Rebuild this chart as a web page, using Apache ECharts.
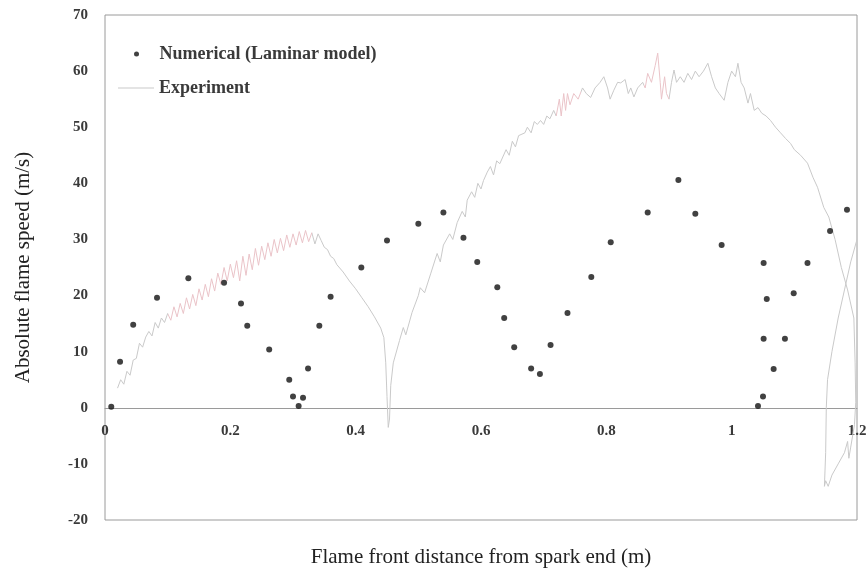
<!DOCTYPE html>
<html>
<head>
<meta charset="utf-8">
<script src="https://cdn.jsdelivr.net/npm/echarts@6/dist/echarts.min.js"></script>
<style>
  html, body { margin: 0; padding: 0; background: #fff; }
  #chart { width: 868px; height: 573px; }
</style>
</head>
<body>
<div id="chart"></div>
<script>
// x ticks / y ticks
const xTicks = { min: 0, max: 1.2, step: 0.2 };
const yTicks = { min: -20, max: 70, step: 10 };

// Numerical (Laminar model) points [distance m, speed m/s]
const numerical = [
  [0.01, 0.2], [0.024, 8.2], [0.045, 14.8], [0.083, 19.6], [0.133, 23.1],
  [0.19, 22.3], [0.217, 18.6], [0.227, 14.6], [0.262, 10.4], [0.294, 5],
  [0.30, 2], [0.309, 0.3], [0.316, 1.8], [0.324, 7], [0.342, 14.6],
  [0.36, 19.8], [0.409, 25], [0.45, 29.8], [0.50, 32.8], [0.54, 34.8],
  [0.572, 30.3], [0.594, 26], [0.626, 21.5], [0.637, 16], [0.653, 10.8],
  [0.68, 7], [0.694, 6], [0.711, 11.2], [0.738, 16.9], [0.776, 23.3],
  [0.807, 29.5], [0.866, 34.8], [0.915, 40.6], [0.942, 34.6], [0.984, 29],
  [1.042, 0.3], [1.05, 2], [1.067, 6.9], [1.051, 12.3], [1.085, 12.3],
  [1.056, 19.4], [1.099, 20.4], [1.051, 25.8], [1.121, 25.8], [1.157, 31.5],
  [1.184, 35.3]
];

// Experiment trace [distance m, speed m/s]
const experiment = [
  [0.02, 3.5], [0.025, 5], [0.03, 4.2], [0.035, 6.5], [0.04, 5.8], [0.045, 8.5],
  [0.05, 8.8], [0.055, 11.5], [0.06, 10.8], [0.065, 12.6], [0.07, 13.6], [0.075, 12.8],
  [0.08, 15.2], [0.085, 14.2], [0.09, 16], [0.095, 15.2], [0.1, 16.8], [0.105, 15.6],
  [0.11, 18], [0.115, 16.2], [0.12, 18.6], [0.125, 16.8], [0.13, 19.6], [0.135, 17.6],
  [0.14, 20.2], [0.145, 18.2], [0.15, 21.2], [0.155, 19.2], [0.16, 22], [0.165, 19.8],
  [0.17, 23], [0.175, 20.8], [0.18, 24], [0.185, 22], [0.19, 25], [0.195, 22.6],
  [0.2, 25.6], [0.205, 23.2], [0.21, 26.2], [0.215, 22.6], [0.22, 27], [0.225, 23.6],
  [0.23, 27.4], [0.235, 24.6], [0.24, 28.4], [0.245, 25.4], [0.25, 28.8], [0.255, 26.4],
  [0.26, 29.4], [0.265, 27], [0.27, 30], [0.275, 27.6], [0.28, 30.2], [0.285, 28],
  [0.29, 30.8], [0.295, 28.6], [0.3, 31], [0.305, 29], [0.31, 31.4], [0.315, 29.4],
  [0.32, 31.6], [0.325, 29.6], [0.33, 31.2], [0.335, 29.2], [0.34, 31], [0.345, 29.8],
  [0.35, 28.6], [0.355, 28.2], [0.36, 27], [0.365, 26.6], [0.37, 25.5], [0.38, 24.2],
  [0.39, 22.6], [0.4, 21.2], [0.41, 19.6], [0.42, 18], [0.43, 16.2], [0.44, 14.2],
  [0.445, 12.5], [0.448, 8], [0.45, 2], [0.452, -3.5], [0.454, -2], [0.456, 4],
  [0.46, 8], [0.47, 12], [0.476, 14.3], [0.48, 13], [0.49, 17], [0.5, 20],
  [0.503, 21.4], [0.51, 20.5], [0.52, 24], [0.53, 27.5], [0.535, 26], [0.54, 29],
  [0.55, 31], [0.555, 30], [0.562, 33], [0.57, 35], [0.575, 34], [0.578, 37],
  [0.585, 38.5], [0.59, 37.5], [0.595, 40], [0.6, 39], [0.604, 40.5], [0.61, 42],
  [0.615, 43], [0.62, 41.5], [0.625, 44], [0.63, 43.5], [0.64, 46], [0.645, 45],
  [0.65, 47.5], [0.655, 46.5], [0.66, 48.5], [0.67, 49], [0.674, 50], [0.68, 49],
  [0.685, 51], [0.69, 50.5], [0.695, 51.2], [0.7, 50.5], [0.705, 52], [0.71, 51.5],
  [0.716, 53], [0.72, 52], [0.725, 55], [0.728, 52], [0.732, 56], [0.735, 53],
  [0.738, 56], [0.742, 54], [0.748, 56], [0.755, 55], [0.762, 57], [0.768, 56],
  [0.775, 55.3], [0.782, 57], [0.79, 58], [0.796, 59], [0.802, 57], [0.806, 55],
  [0.812, 56.6], [0.818, 58], [0.823, 57.9], [0.83, 58.5], [0.835, 56], [0.839, 57],
  [0.844, 55.4], [0.85, 57], [0.858, 58], [0.862, 57], [0.866, 59.6], [0.872, 58],
  [0.878, 61], [0.882, 63.2], [0.886, 58], [0.888, 55], [0.89, 54.8], [0.893, 59],
  [0.896, 56], [0.9, 55], [0.904, 58], [0.908, 60.2], [0.912, 58], [0.918, 59],
  [0.924, 58], [0.93, 59.6], [0.936, 58.5], [0.942, 60], [0.948, 59], [0.955, 60],
  [0.962, 61.4], [0.968, 59], [0.974, 57], [0.98, 56], [0.988, 54.8], [0.994, 58],
  [1.0, 60], [1.006, 59], [1.01, 61.4], [1.015, 58], [1.02, 57], [1.026, 54.3],
  [1.03, 56], [1.036, 53], [1.042, 53.5], [1.048, 52.5], [1.055, 52], [1.062, 51.2],
  [1.07, 50], [1.078, 49], [1.086, 48], [1.094, 47.1], [1.1, 46], [1.11, 45],
  [1.121, 43.6], [1.13, 41], [1.137, 39.3], [1.147, 35.7], [1.155, 34], [1.165, 30],
  [1.175, 25], [1.185, 21], [1.195, 16], [1.197, 8], [1.198, 1], [1.196, -3],
  [1.19, -7], [1.187, -9], [1.185, -6], [1.18, -8], [1.17, -10], [1.16, -12],
  [1.154, -14], [1.15, -13], [1.148, -14], [1.15, -8], [1.151, 0], [1.153, 5],
  [1.16, 10], [1.17, 16], [1.18, 21], [1.19, 26], [1.2, 30]
];

const seriesNames = ['Numerical (Laminar model)', 'Experiment'];
const lineGray = '#c9c9c9';
const linePink = '#eac3c8';

const labelFont = {
  fontFamily: 'Liberation Serif',
  fontWeight: 'bold',
  fontSize: 15,
  color: '#3a3a3a'
};
const legendFont = Object.assign({}, labelFont, { fontSize: 18 });
const titleFont = {
  fontFamily: 'Liberation Serif',
  fontSize: 21,
  color: '#222'
};

// grid box, the x axis sits on y = 0 inside it
const gridTop = 15, gridBottom = 53;
const plotHeight = 573 - gridTop - gridBottom;
const zeroOffset = -(0 - yTicks.min) / (yTicks.max - yTicks.min) * plotHeight;

var myChart = echarts.init(document.getElementById('chart'));
const option = {
  animation: false,
  grid: {
    left: 105,
    right: 11,
    top: gridTop,
    bottom: gridBottom,
    outerBoundsMode: 'none',
    containLabel: false,
    show: true,
    borderColor: '#9a9a9a',
    borderWidth: 1
  },
  legend: [
    {
      data: [seriesNames[0]],
      left: 129,
      top: 40,
      itemWidth: 36,
      itemHeight: 5,
      itemGap: 5,
      textStyle: legendFont
    },
    {
      data: [{ name: seriesNames[1], icon: 'rect', itemStyle: { color: lineGray } }],
      left: 113,
      top: 74,
      itemWidth: 36,
      itemHeight: 1,
      textStyle: legendFont
    }
  ],
  xAxis: {
    type: 'value',
    position: 'bottom',
    offset: zeroOffset,
    min: xTicks.min,
    max: xTicks.max,
    interval: xTicks.step,
    name: 'Flame front distance from spark end (m)',
    nameLocation: 'middle',
    nameGap: 139,
    nameTextStyle: titleFont,
    axisLine: { onZero: false, lineStyle: { color: '#9a9a9a', width: 1 } },
    axisTick: { show: false },
    axisLabel: Object.assign({ margin: 16 }, labelFont),
    splitLine: { show: false }
  },
  yAxis: {
    type: 'value',
    min: yTicks.min,
    max: yTicks.max,
    interval: yTicks.step,
    name: 'Absolute flame speed (m/s)',
    nameLocation: 'middle',
    nameGap: 71,
    nameTextStyle: titleFont,
    axisLine: { show: false },
    axisTick: { show: false },
    axisLabel: Object.assign({ margin: 17 }, labelFont),
    splitLine: { show: false }
  },
  visualMap: {
    show: false,
    type: 'piecewise',
    seriesIndex: 1,
    dimension: 0,
    pieces: [
      { lt: 0.1, color: lineGray },
      { gte: 0.1, lt: 0.33, color: linePink },
      { gte: 0.33, lt: 0.72, color: lineGray },
      { gte: 0.72, lt: 0.76, color: linePink },
      { gte: 0.76, lt: 0.86, color: lineGray },
      { gte: 0.86, lt: 0.9, color: linePink },
      { gte: 0.9, color: lineGray }
    ]
  },
  series: [
    {
      name: seriesNames[0],
      type: 'scatter',
      symbol: 'circle',
      symbolSize: 6,
      itemStyle: { color: '#111' },
      data: numerical,
      z: 3
    },
    {
      name: seriesNames[1],
      type: 'line',
      showSymbol: false,
      symbol: 'none',
      lineStyle: { width: 1 },
      data: experiment,
      z: 2
    }
  ]
};
myChart.setOption(option);
</script>
</body>
</html>
